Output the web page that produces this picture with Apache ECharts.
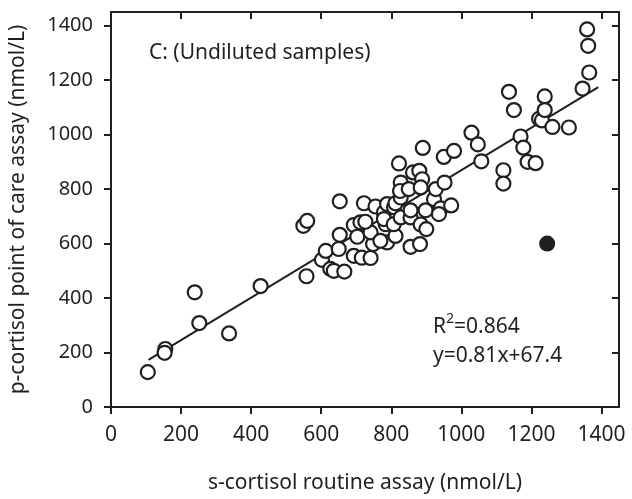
<!DOCTYPE html>
<html>
<head>
<meta charset="utf-8">
<script src="https://cdn.jsdelivr.net/npm/echarts@6/dist/echarts.min.js"></script>
<style>
html,body{margin:0;padding:0;background:#fff;}
#c{width:632px;height:499px;}
</style>
</head>
<body>
<div id="c"></div>
<script>
// s-cortisol (x) and p-cortisol (y) for undiluted samples, open circles
const sCortisol = [105,155,153,239,252,337,427,558,549,560,
  602,613,626,636,666,650,653,653,693,703,693,712,
  716,741,748,741,726,722,755,779,784,788,769,788,779,808,
  812,812,807,827,855,855,827,822,827,825,850,862,880,888,884,890,884,900,855,882,898,
  922,927,952,950,979,941,971,936,
  1029,1047,1057,1120,1120,1136,1150,1169,1177,1189,1212,1222,1230,1238,1238,1260,1307,1346,1365,1362,1359];
const pCortisol = [128,213,199,421,308,270,444,480,665,683,
  540,573,507,500,497,580,632,755,668,625,555,678,
  548,547,598,641,680,748,736,714,671,604,610,745,690,733,
  748,628,671,696,696,722,769,894,824,793,800,861,867,836,806,951,670,653,588,598,722,
  763,800,824,918,940,729,740,708,
  1007,964,902,869,820,1157,1090,993,952,900,895,1058,1052,1140,1090,1028,1026,1169,1228,1326,1386];
// outlier (filled circle)
const outlierX = [1245];
const outlierY = [600];
// regression line end points
const lineX = [107, 1391];
const lineY = [173, 1174];
const xTicks = [0,200,400,600,800,1000,1200,1400];
const yTicks = [0,200,400,600,800,1000,1200,1400];

const INK = '#231f20';
const FONT = 'Noto Sans';
const chart = echarts.init(document.getElementById('c'), null, {renderer:'canvas'});

const axisCommon = {
  type:'value', min:0, max:1450, interval:200,
  axisLine:{show:true, onZero:false, lineStyle:{color:INK, width:2}},
  splitLine:{show:false}
};

chart.setOption({
  animation:false,
  backgroundColor:'#fff',
  grid:{left:111, right:13, top:12, bottom:91, containLabel:false},
  xAxis:[
    Object.assign({}, axisCommon, {
      position:'bottom',
      name:'s-cortisol routine assay (nmol/L)', nameLocation:'middle', nameGap:66,
      nameTextStyle:{fontFamily:FONT, fontSize:21, color:INK},
      axisTick:{show:true, inside:false, length:7, lineStyle:{color:INK, width:2}},
      axisLabel:{fontFamily:FONT, fontSize:21, color:INK, margin:18,
        formatter:v => (xTicks.indexOf(v) >= 0 ? String(v) : ''), showMaxLabel:false}
    }),
    Object.assign({}, axisCommon, {
      position:'top',
      axisTick:{show:true, inside:true, length:7, lineStyle:{color:INK, width:2}},
      axisLabel:{show:false}
    })
  ],
  yAxis:[
    Object.assign({}, axisCommon, {
      position:'left',
      name:'p-cortisol point of care assay (nmol/L)', nameLocation:'middle', nameGap:82, nameRotate:90,
      nameTextStyle:{fontFamily:FONT, fontSize:21, color:INK},
      axisTick:{show:true, inside:false, length:7, lineStyle:{color:INK, width:2}},
      axisLabel:{fontFamily:FONT, fontSize:20, color:INK, margin:18,
        formatter:v => (yTicks.indexOf(v) >= 0 ? String(v) : ''), showMaxLabel:false}
    }),
    Object.assign({}, axisCommon, {
      position:'right',
      axisTick:{show:true, inside:true, length:7, lineStyle:{color:INK, width:2}},
      axisLabel:{show:false}
    })
  ],
  series:[
    {
      type:'line', xAxisIndex:0, yAxisIndex:0, z:1,
      data: lineX.map((x,i)=>[x, lineY[i]]),
      symbol:'none', lineStyle:{color:INK, width:2}, silent:true
    },
    {
      type:'scatter', xAxisIndex:0, yAxisIndex:0, z:2,
      data: sCortisol.map((x,i)=>[x, pCortisol[i]]),
      symbol:'circle', symbolSize:14,
      itemStyle:{color:'#fff', borderColor:INK, borderWidth:2.2, opacity:1}
    },
    {
      type:'scatter', xAxisIndex:0, yAxisIndex:0, z:3,
      data: outlierX.map((x,i)=>[x, outlierY[i]]),
      symbol:'circle', symbolSize:16,
      itemStyle:{color:INK, borderWidth:0, opacity:1}
    }
  ],
  graphic:[
    {type:'text', left:149, top:43, style:{text:'C: (Undiluted samples)', fontFamily:FONT, fontSize:21, fill:INK}},
    {type:'text', left:433, top:312, style:{
      text:'{r|R}{s|2}{r|=0.864}', fontFamily:FONT, fill:INK,
      rich:{r:{fontFamily:FONT, fontSize:21, lineHeight:26, fill:INK, verticalAlign:'bottom'},
            s:{fontFamily:FONT, fontSize:14, lineHeight:14, fill:INK, verticalAlign:'top'}}
    }},
    {type:'text', left:433, top:346, style:{text:'y=0.81x+67.4', fontFamily:FONT, fontSize:21, fill:INK}}
  ]
});
</script>
</body>
</html>
